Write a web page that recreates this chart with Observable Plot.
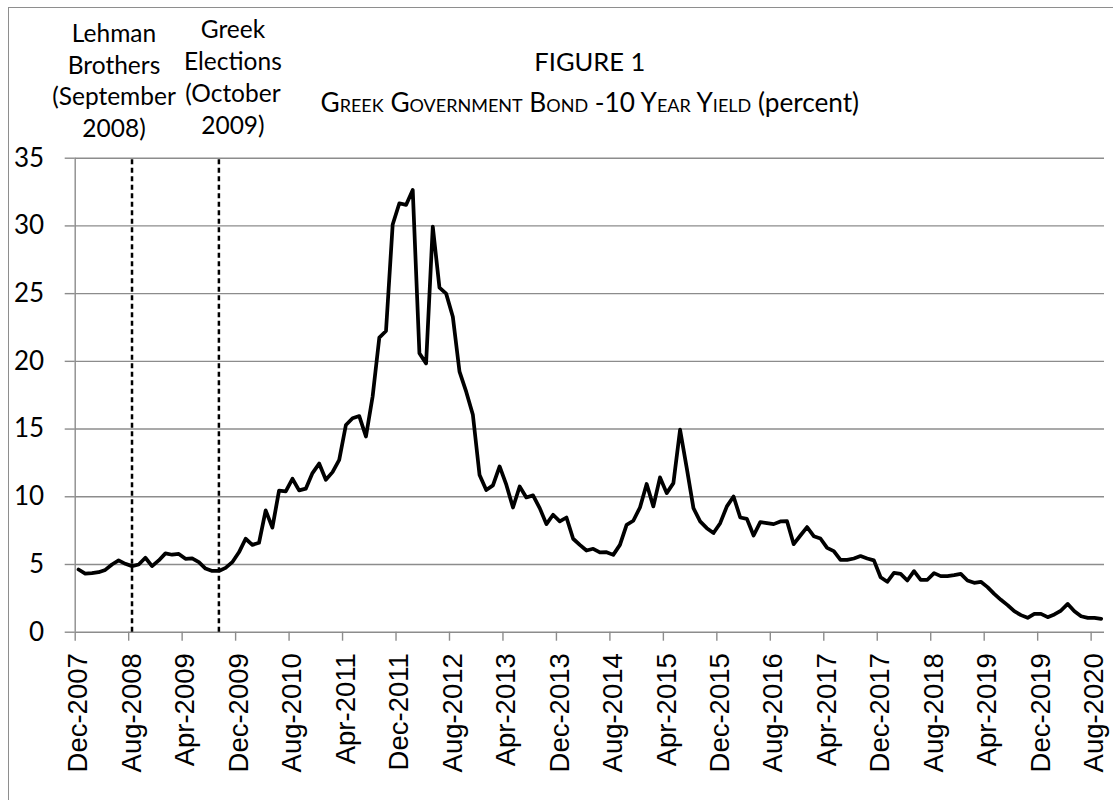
<!DOCTYPE html>
<html><head><meta charset="utf-8">
<script src="https://cdn.jsdelivr.net/npm/d3@7"></script>
<script src="https://cdn.jsdelivr.net/npm/@observablehq/plot@0.6"></script>
<style>
html,body{margin:0;padding:0;background:#fff;overflow:hidden;}
#wrap{position:relative;width:1113px;height:800px;overflow:hidden;}
#wrap svg{position:absolute;left:0;top:0;}
#border{position:absolute;left:8px;top:7px;width:1200px;height:900px;border:1px solid #8e8e8e;pointer-events:none;}
</style></head><body><div id="wrap"><div id="border"></div></div>
<script>
// Monthly categories Dec-2007 ... Sep-2020
const months = d3.utcMonths(new Date(Date.UTC(2007, 11, 1)), new Date(Date.UTC(2020, 9, 1)));
const fmt = d3.utcFormat("%b-%Y");
const monthLabels = months.map(fmt);

// Greek 10-year government bond yield (percent)
const yieldValues = [
  4.63, 4.33, 4.36, 4.43, 4.60, 5.00, 5.30, 5.05, 4.88, 5.00,
  5.50, 4.88, 5.30, 5.82, 5.72, 5.78, 5.42, 5.45, 5.17, 4.70,
  4.52, 4.52, 4.75, 5.17, 5.90, 6.90, 6.45, 6.60, 9.00, 7.72,
  10.45, 10.40, 11.33, 10.47, 10.60, 11.75, 12.45, 11.26, 11.82, 12.73,
  15.30, 15.80, 15.96, 14.45, 17.40, 21.75, 22.24, 30.10, 31.67, 31.55,
  32.66, 20.60, 19.85, 29.95, 25.44, 25.00, 23.30, 19.24, 17.76, 16.05,
  11.60, 10.50, 10.84, 12.24, 10.89, 9.21, 10.76, 9.95, 10.10, 9.16,
  7.98, 8.67, 8.18, 8.47, 6.90, 6.45, 6.03, 6.16, 5.89, 5.91,
  5.71, 6.45, 7.93, 8.23, 9.21, 10.94, 9.29, 11.43, 10.27, 11.01,
  14.95, 12.12, 9.16, 8.18, 7.68, 7.32, 8.05, 9.29, 10.02, 8.47,
  8.37, 7.14, 8.13, 8.05, 7.98, 8.18, 8.20, 6.50, 7.14, 7.76,
  7.09, 6.92, 6.23, 5.99, 5.34, 5.34, 5.44, 5.62, 5.44, 5.30,
  4.06, 3.72, 4.38, 4.31, 3.82, 4.51, 3.87, 3.87, 4.36, 4.14,
  4.14, 4.21, 4.31, 3.82, 3.65, 3.72, 3.33, 2.83, 2.39, 2.00,
  1.55, 1.26, 1.06, 1.35, 1.35, 1.11, 1.31, 1.60, 2.09, 1.55,
  1.18, 1.06, 1.06, 0.99
];

const yTicks = [0, 5, 10, 15, 20, 25, 30, 35];
const xTickLabels = ["Dec-2007","Aug-2008","Apr-2009","Dec-2009","Aug-2010","Apr-2011","Dec-2011","Aug-2012","Apr-2013","Dec-2013","Aug-2014","Apr-2015","Dec-2015","Aug-2016","Apr-2017","Dec-2017","Aug-2018","Apr-2019","Dec-2019","Aug-2020"];

const eventLabels = ["Lehman\nBrothers\n(September\n2008)", "Greek\nElections\n(October\n2009)"];
const eventMonths = ["Aug-2008", "Sep-2009"];

const titleText = "FIGURE 1";
const subtitleMain = "Greek Government Bond -10 Year Yield";
const subtitleUnit = "(percent)";
const subtitleText = subtitleMain + " " + subtitleUnit;

const data = monthLabels.map((m, i) => ({i, month: m, value: yieldValues[i]}));
const idx = m => monthLabels.indexOf(m);
const labelIdx = xTickLabels.map(idx);
const tickBounds = labelIdx.map(i => i - 0.5);
const events = eventLabels.map((label, k) => ({label, i: idx(eventMonths[k])}));

const gray = "#8c8c8c";
const chart = Plot.plot({
  width: 1113, height: 800,
  marginLeft: 74.7, marginRight: 9, marginTop: 157.7, marginBottom: 168.3,
  x: {type: "linear", domain: [-0.5, months.length - 0.5], axis: null, label: null},
  y: {domain: [0, 35], axis: null, label: null},
  style: {fontFamily: "Lato, sans-serif", background: "transparent", overflow: "visible", color: "#000"},
  marks: [
    Plot.gridY({ticks: yTicks, stroke: gray, strokeOpacity: 1, strokeWidth: 1.4}),
    Plot.ruleX([-0.5], {stroke: gray, strokeWidth: 1.4}),
    Plot.axisY({ticks: yTicks, label: null, tickSize: 10, tickPadding: 21, stroke: gray, strokeWidth: 1.4, fontSize: 26, fontFamily: "Lato"}),
    Plot.axisX({ticks: tickBounds, label: null, tickSize: 9, tickFormat: () => "", stroke: gray, strokeWidth: 1.4}),
    Plot.axisX({ticks: labelIdx, label: null, tickSize: 0, tickPadding: 21, tickRotate: -90,
      tickFormat: i => monthLabels[Math.round(i)], fontSize: 27.5, fontFamily: "Liberation Sans, Arial, sans-serif"}),
    Plot.ruleX(events, {x: "i", y1: 0, y2: 35, stroke: "#000", strokeWidth: 2.5, strokeDasharray: "5,3.5"}),
    Plot.line(data, {x: "i", y: "value", stroke: "#000", strokeWidth: 3.75, strokeLinejoin: "round", strokeLinecap: "round"}),
    Plot.text([events[0]], {x: "i", y: 35, text: "label", dx: -18, dy: -21, lineAnchor: "bottom", lineHeight: 1.3, fontSize: 24.5, fontFamily: "Lato", fill: "#000"}),
    Plot.text([events[1]], {x: "i", y: 35, text: "label", dx: 14, dy: -24.5, lineAnchor: "bottom", lineHeight: 1.3, fontSize: 24.5, fontFamily: "Lato", fill: "#000"}),
    Plot.text([titleText], {frameAnchor: "top", dy: -87, lineAnchor: "bottom", fontSize: 25.5, fontFamily: "Lato", fill: "#000"}),
    Plot.text([subtitleText], {frameAnchor: "top", dy: -46, lineAnchor: "bottom", fontSize: 26.2, fontFamily: "Lato", fill: "#000"})
  ]
});

// small caps for the main part of the subtitle
chart.querySelectorAll("text").forEach(t => {
  if (t.textContent === subtitleText) {
    while (t.firstChild) t.removeChild(t.firstChild);
    const ns = "http://www.w3.org/2000/svg";
    const a = document.createElementNS(ns, "tspan");
    a.setAttribute("style", "font-variant: small-caps");
    a.textContent = subtitleMain + " ";
    const b = document.createElementNS(ns, "tspan");
    b.textContent = subtitleUnit;
    t.appendChild(a); t.appendChild(b);
  }
});
document.getElementById("wrap").appendChild(chart);
</script>
</body></html>
